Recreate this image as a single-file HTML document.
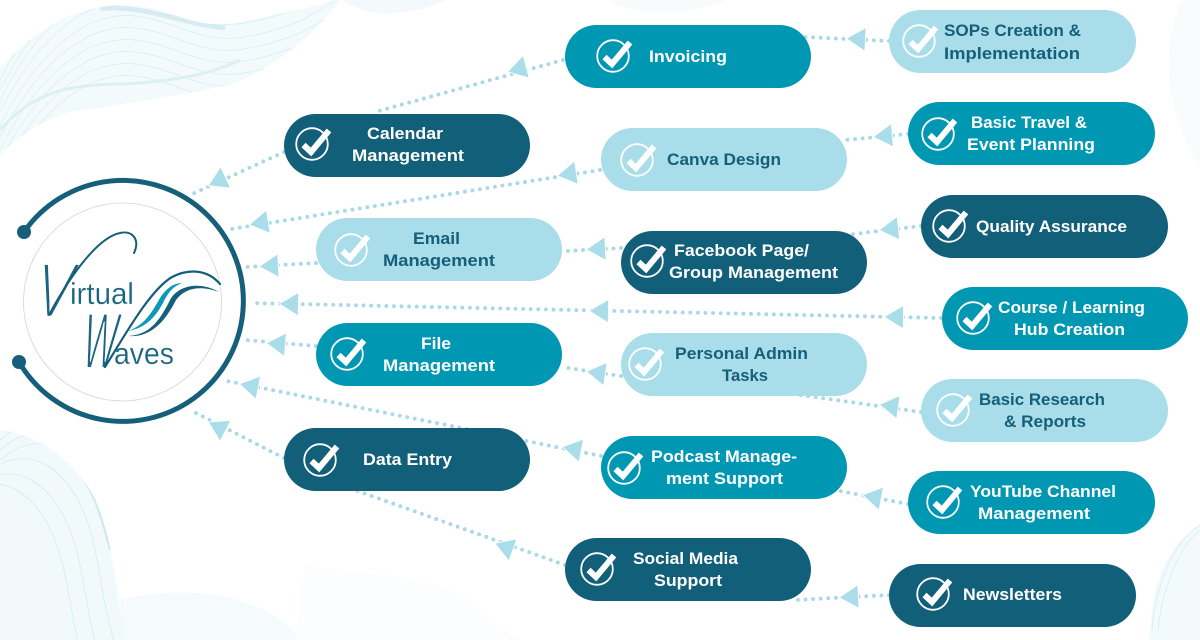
<!DOCTYPE html>
<html><head><meta charset="utf-8"><style>
html,body{margin:0;padding:0;background:#fff}
svg{display:block}
.t{font-family:"Liberation Sans",sans-serif;font-weight:700;font-size:16.5px}
.w{fill:#fff}.n{fill:#155f7a}
.c{fill:none;stroke:#a9d9e4;stroke-width:3.9;stroke-linecap:round;stroke-dasharray:0 7.6}
.l{font-family:"Liberation Sans",sans-serif;fill:#1a6580;stroke:#fff}
</style></head><body>
<svg width="1200" height="640" viewBox="0 0 1200 640" xmlns="http://www.w3.org/2000/svg">
<title>Virtual Waves services</title>
<defs>
<clipPath id="tl"><path d="M0 68C40 25 80 5 125 5C170 5 190 32 240 22C290 12 320 5 342 -2C310 40 270 70 230 85C180 95 120 105 70 112C40 120 15 140 0 155Z"/></clipPath>
<clipPath id="bl"><path d="M0 430C45 435 85 470 100 510C115 550 115 600 128 640L0 640Z"/></clipPath>
<path id="a1" d="M0 120C40 40 90 5 135 10C180 15 200 40 250 30C300 20 320 5 340 -10" fill="none" stroke="#d6ecf1" stroke-width=".7"/>
<path id="a2" d="M0 480C40 445 80 470 100 520C115 560 115 600 130 650" fill="none" stroke="#d0e9ef" stroke-width=".7"/>
<g id="k"><circle r="15.800" fill="none" stroke="#fff" stroke-width="1.800"/><path d="M-8.500 1L-1 8L17 -13.500" fill="none" stroke="#fff" stroke-width="6"/></g>
<polygon id="h" points="-10,0 8,-11 8,11" fill="#a9dde9" stroke="#fff" stroke-width="2" paint-order="stroke"/>
</defs>
<rect width="1200" height="640" fill="#fff"/>

<!-- background waves -->
<path d="M0 68C40 25 80 5 125 5C170 5 190 32 240 22C290 12 320 5 342 -2C310 40 270 70 230 85C180 95 120 105 70 112C40 120 15 140 0 155Z" fill="#f3fafb"/>
<g clip-path="url(#tl)">
<use href="#a1" y="-40"/><use href="#a1" y="-30"/><use href="#a1" y="-20"/><use href="#a1" y="-8"/><use href="#a1" y="6"/><use href="#a1" y="18"/><use href="#a1" y="30"/><use href="#a1" y="42"/><use href="#a1" y="54"/><use href="#a1" y="66"/>
<path d="M0 130C35 90 70 85 120 84C170 82 210 75 240 60" fill="none" stroke="#dcf0f4" stroke-width="3"/>
<path d="M100 8C150 6 175 22 225 28" fill="none" stroke="#d6ecf2" stroke-width="5"/>
</g>
<path d="M341 0C365 15 400 20 448 0Z" fill="#f4fafb"/>
<path d="M607 0C640 18 690 16 727 0Z" fill="#f7fbfc"/>
<path d="M1182 0C1160 50 1165 110 1200 166L1200 0Z" fill="#f8fcfd"/>
<path d="M1200 525C1165 545 1150 590 1150 640L1200 640Z" fill="#f3fafb"/>
<path d="M1200 525C1170 545 1155 590 1152 630M1200 530C1178 548 1162 590 1158 630" fill="none" stroke="#d6ecf1" stroke-width=".8"/>
<path d="M0 430C45 435 85 470 100 510C115 550 115 600 128 640L0 640Z" fill="#f2f9fb"/>
<g clip-path="url(#bl)">
<use href="#a2" y="-40"/><use href="#a2" y="-30"/><use href="#a2" y="-20"/><use href="#a2" x="-15" y="-5"/><use href="#a2" x="-30" y="10"/><use href="#a2" x="-45" y="20"/>
<path d="M62 450C90 480 100 510 110 550" fill="none" stroke="#cfe8ee" stroke-width="2"/>
</g>
<path d="M120 600C180 585 260 590 303 640L125 640Z" fill="#f5fbfc"/>
<path d="M305 565C350 575 420 570 470 600C490 612 500 630 520 640L295 640Z" fill="#fbfdfe"/>

<!-- connectors -->
<path class="c" d="M563 60L375 112"/><path class="c" d="M284 152L190 195"/>
<path class="c" d="M600 170L225 230"/>
<path class="c" d="M316 263L246 267"/>
<path class="c" d="M621 248L565 251"/>
<path class="c" d="M941 318L250 303"/>
<path class="c" d="M316 346L246 340"/>
<path class="c" d="M621 376L562 367"/>
<path class="c" d="M921 412L800 395"/>
<path class="c" d="M601 456L222 380"/>
<path class="c" d="M284 458L190 410"/>
<path class="c" d="M565 565L355 490"/>
<path class="c" d="M889 595L795 600"/>
<path class="c" d="M908 504L835 490"/>
<path class="c" d="M908 134L845 140"/>
<path class="c" d="M921 226L845 235"/>
<path class="c" d="M889 41L805 37"/>
<use href="#h" transform="translate(518 69) rotate(-15)"/>
<use href="#h" transform="translate(218 181) rotate(-25)"/>
<use href="#h" transform="translate(568 174) rotate(-9)"/>
<use href="#h" transform="translate(260 223) rotate(-9)"/>
<use href="#h" transform="translate(270 266) rotate(-3)"/>
<use href="#h" transform="translate(597 249) rotate(-3)"/>
<use href="#h" transform="translate(290 304) rotate(1)"/>
<use href="#h" transform="translate(600 311) rotate(1)"/>
<use href="#h" transform="translate(895 317) rotate(1)"/>
<use href="#h" transform="translate(277 344) rotate(5)"/>
<use href="#h" transform="translate(597 373) rotate(8)"/>
<use href="#h" transform="translate(890 406) rotate(8)"/>
<use href="#h" transform="translate(250 386) rotate(11)"/>
<use href="#h" transform="translate(573 449) rotate(11)"/>
<use href="#h" transform="translate(218 427) rotate(27)"/>
<use href="#h" transform="translate(505 547) rotate(20)"/>
<use href="#h" transform="translate(850 597) rotate(-3)"/>
<use href="#h" transform="translate(873 497) rotate(11)"/>
<use href="#h" transform="translate(884 136) rotate(-5)"/>
<use href="#h" transform="translate(890 229) rotate(-6)"/>
<use href="#h" transform="translate(857 39) rotate(3)"/>

<!-- logo -->
<circle cx="122.500" cy="302" r="99" fill="#fff" stroke="#d4d4d4" stroke-width=".8"/>
<path d="M24 232A120.500 120.500 0 1 1 19 362" fill="none" stroke="#155f7a" stroke-width="5"/>
<circle cx="24" cy="232" r="7" fill="#155f7a"/><circle cx="19" cy="362" r="7" fill="#155f7a"/>
<text class="l" transform="translate(49 317) skewX(-13.800) scale(.73 1)" text-anchor="middle" font-size="78" stroke-width="3">V</text>
<text class="l" transform="translate(96.500 368) skewX(-9.500) scale(.45 1)" text-anchor="middle" font-size="79" stroke-width="2">W</text>
<text class="l" x="70" y="304" font-size="31" stroke-width=".2" textLength="64" lengthAdjust="spacingAndGlyphs">irtual</text>
<text class="l" x="114" y="364" font-size="31" stroke-width=".2" textLength="60" lengthAdjust="spacingAndGlyphs">aves</text>
<path d="M49 315C65 285 95 238 120 233C133 230 140 240 134 253" fill="none" stroke="#155f7a" stroke-width="2" stroke-linecap="round"/>
<path d="M105 367C125 335 150 290 172 277C190 268 208 270 220 284" fill="none" stroke="#155f7a" stroke-width="2.200" stroke-linecap="round"/>
<path d="M128 336C150 335 160 320 170 300C178 285 200 281 219 292C200 285 185 288 176 300C165 322 150 338 128 336Z" fill="#155f7a"/>
<path d="M128 331C145 325 152 312 160 298C167 287 175 283 182 283C172 287 168 293 163 303C155 318 145 328 128 331Z" fill="#0a9ab5"/>

<!-- pills -->
<rect x="565" y="25" width="246" height="63" rx="31.500" fill="#0097b2"/>
<rect x="889" y="10" width="247" height="63" rx="31.500" fill="#a8dde9"/>
<rect x="284" y="114" width="246" height="63" rx="31.500" fill="#125f7a"/>
<rect x="601" y="128" width="246" height="63" rx="31.500" fill="#a8dde9"/>
<rect x="908" y="102" width="247" height="63" rx="31.500" fill="#0097b2"/>
<rect x="921" y="195" width="247" height="63" rx="31.500" fill="#125f7a"/>
<rect x="316" y="218" width="246" height="63" rx="31.500" fill="#a8dde9"/>
<rect x="621" y="231" width="246" height="63" rx="31.500" fill="#125f7a"/>
<rect x="942" y="287" width="246" height="63" rx="31.500" fill="#0097b2"/>
<rect x="316" y="323" width="246" height="63" rx="31.500" fill="#0097b2"/>
<rect x="621" y="333" width="246" height="63" rx="31.500" fill="#a8dde9"/>
<rect x="921" y="379" width="247" height="63" rx="31.500" fill="#a8dde9"/>
<rect x="601" y="436" width="246" height="63" rx="31.500" fill="#0097b2"/>
<rect x="284" y="428" width="246" height="63" rx="31.500" fill="#125f7a"/>
<rect x="908" y="471" width="247" height="63" rx="31.500" fill="#0097b2"/>
<rect x="565" y="538" width="246" height="63" rx="31.500" fill="#125f7a"/>
<rect x="889" y="564" width="247" height="63" rx="31.500" fill="#125f7a"/>

<!-- checks -->
<use href="#k" x="613" y="56"/><use href="#k" x="919" y="41"/><use href="#k" x="312" y="144"/><use href="#k" x="637" y="160"/><use href="#k" x="938" y="134"/><use href="#k" x="949" y="226"/><use href="#k" x="351" y="250"/><use href="#k" x="647" y="261"/><use href="#k" x="973" y="318"/><use href="#k" x="347" y="354"/><use href="#k" x="645" y="364"/><use href="#k" x="953" y="410"/><use href="#k" x="624" y="468"/><use href="#k" x="320" y="460"/><use href="#k" x="943" y="502"/><use href="#k" x="597" y="569"/><use href="#k" x="933" y="594"/>

<!-- labels -->
<g class="t">
<text class="w" x="649" y="62" textLength="78" lengthAdjust="spacingAndGlyphs">Invoicing</text>
<text class="n" x="944" y="36" textLength="137" lengthAdjust="spacingAndGlyphs">SOPs Creation &amp;</text>
<text class="n" x="944" y="59" textLength="136" lengthAdjust="spacingAndGlyphs">Implementation</text>
<text class="w" x="367" y="139" textLength="76" lengthAdjust="spacingAndGlyphs">Calendar</text>
<text class="w" x="352" y="161" textLength="112" lengthAdjust="spacingAndGlyphs">Management</text>
<text class="n" x="667" y="165" textLength="114" lengthAdjust="spacingAndGlyphs">Canva Design</text>
<text class="w" x="971" y="128" textLength="116" lengthAdjust="spacingAndGlyphs">Basic Travel &amp;</text>
<text class="w" x="967" y="150" textLength="128" lengthAdjust="spacingAndGlyphs">Event Planning</text>
<text class="w" x="976" y="232" textLength="151" lengthAdjust="spacingAndGlyphs">Quality Assurance</text>
<text class="n" x="413" y="244" textLength="47" lengthAdjust="spacingAndGlyphs">Email</text>
<text class="n" x="383" y="266" textLength="112" lengthAdjust="spacingAndGlyphs">Management</text>
<text class="w" x="674" y="256" textLength="135" lengthAdjust="spacingAndGlyphs">Facebook Page/</text>
<text class="w" x="669" y="278" textLength="169" lengthAdjust="spacingAndGlyphs">Group Management</text>
<text class="w" x="998" y="313" textLength="147" lengthAdjust="spacingAndGlyphs">Course / Learning</text>
<text class="w" x="1014" y="335" textLength="111" lengthAdjust="spacingAndGlyphs">Hub Creation</text>
<text class="w" x="421" y="349" textLength="30" lengthAdjust="spacingAndGlyphs">File</text>
<text class="w" x="383" y="371" textLength="112" lengthAdjust="spacingAndGlyphs">Management</text>
<text class="n" x="675" y="359" textLength="133" lengthAdjust="spacingAndGlyphs">Personal Admin</text>
<text class="n" x="722" y="381" textLength="46" lengthAdjust="spacingAndGlyphs">Tasks</text>
<text class="n" x="979" y="405" textLength="126" lengthAdjust="spacingAndGlyphs">Basic Research</text>
<text class="n" x="1004" y="427" textLength="82" lengthAdjust="spacingAndGlyphs">&amp; Reports</text>
<text class="w" x="651" y="462" textLength="146" lengthAdjust="spacingAndGlyphs">Podcast Manage-</text>
<text class="w" x="666" y="484" textLength="117" lengthAdjust="spacingAndGlyphs">ment Support</text>
<text class="w" x="363" y="465" textLength="89" lengthAdjust="spacingAndGlyphs">Data Entry</text>
<text class="w" x="970" y="497" textLength="146" lengthAdjust="spacingAndGlyphs">YouTube Channel</text>
<text class="w" x="978" y="519" textLength="112" lengthAdjust="spacingAndGlyphs">Management</text>
<text class="w" x="633" y="564" textLength="105" lengthAdjust="spacingAndGlyphs">Social Media</text>
<text class="w" x="654" y="586" textLength="68" lengthAdjust="spacingAndGlyphs">Support</text>
<text class="w" x="963" y="600" textLength="99" lengthAdjust="spacingAndGlyphs">Newsletters</text>
</g>
</svg>
</body></html>
